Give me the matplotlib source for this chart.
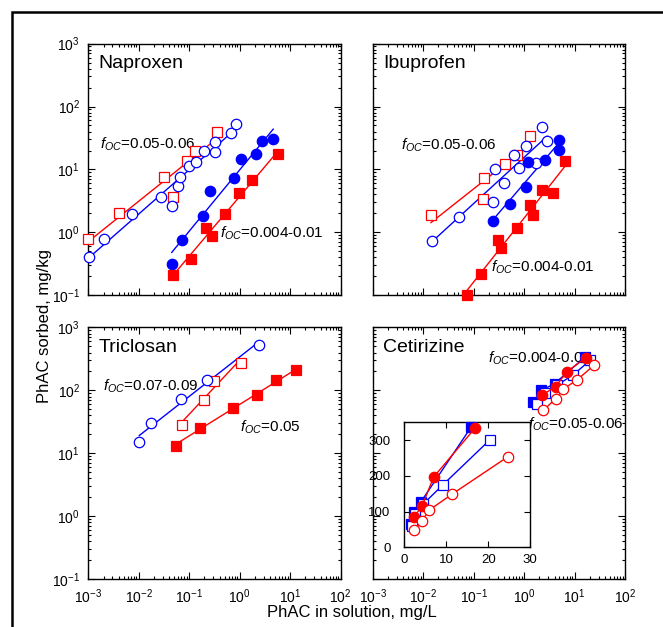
import numpy as np
import matplotlib
matplotlib.use("Agg")
import matplotlib.pyplot as plt
from matplotlib.patches import Rectangle

plt.rcParams['font.family'] = ['Liberation Sans', 'DejaVu Sans']
plt.rcParams['mathtext.fontset'] = 'custom'
plt.rcParams['mathtext.rm'] = 'Liberation Sans'
plt.rcParams['mathtext.it'] = 'Liberation Sans:italic'
plt.rcParams['mathtext.default'] = 'regular'

RED = '#ff0000'
BLUE = '#0000ff'

# Naproxen
nap_hi_sq_x = [0.001, 0.0041, 0.032, 0.047, 0.091, 0.13, 0.35]
nap_hi_sq_y = [0.78, 2.0, 7.6, 3.7, 13.7, 19.7, 38.7]
nap_hi_ci_x = [0.00105, 0.00204, 0.0073, 0.027, 0.045, 0.060, 0.066, 0.099, 0.138, 0.193, 0.318, 0.323, 0.67, 0.83]
nap_hi_ci_y = [0.40, 0.79, 1.97, 3.7, 2.6, 5.5, 7.7, 11.3, 13.2, 19.3, 18.8, 27.1, 37.3, 53.7]
nap_lo_ci_x = [0.045, 0.071, 0.184, 0.254, 0.78, 1.04, 2.07, 2.75, 4.6]
nap_lo_ci_y = [0.32, 0.77, 1.83, 4.5, 7.2, 14.4, 17.5, 28.8, 31]
nap_lo_sq_x = [0.047, 0.107, 0.211, 0.282, 0.52, 0.96, 1.77, 5.6]
nap_lo_sq_y = [0.21, 0.38, 1.17, 0.87, 1.95, 4.2, 6.8, 17.3]

# Ibuprofen
ibu_hi_sq_x = [0.0143, 0.155, 0.16, 0.42, 0.71, 1.31]
ibu_hi_sq_y = [1.88, 3.34, 7.2, 12.3, 16.9, 34]
ibu_hi_ci_x = [0.015, 0.0506, 0.24, 0.27, 0.40, 0.625, 0.80, 1.07, 1.70, 2.27, 2.85]
ibu_hi_ci_y = [0.74, 1.75, 3.0, 10.1, 6.2, 16.7, 10.6, 23.4, 12.7, 46.4, 28.4]
ibu_lo_ci_x = [0.244, 0.52, 1.10, 1.22, 2.6, 4.8, 4.85]
ibu_lo_ci_y = [1.53, 2.8, 5.2, 13.2, 14.1, 20.2, 29.2]
ibu_lo_sq_x = [0.073, 0.141, 0.31, 0.35, 0.71, 1.31, 1.47, 2.24, 3.8, 6.6]
ibu_lo_sq_y = [0.10, 0.22, 0.755, 0.56, 1.18, 2.7, 1.88, 4.8, 4.25, 13.7]

# Triclosan
tri_hi_ci_x = [0.0102, 0.0172, 0.0686, 0.221, 2.43]
tri_hi_ci_y = [14.9, 30.2, 73.5, 146, 531]
tri_hi_sq_x = [0.071, 0.195, 0.308, 1.04]
tri_hi_sq_y = [28.4, 71.6, 143.6, 275]
tri_lo_sq_x = [0.054, 0.163, 0.743, 2.16, 5.28, 13.2]
tri_lo_sq_y = [13.3, 25.4, 53.5, 84, 146, 210]

# Cetirizine
cet_lo_ci_x = [2.3, 4.2, 7.0, 16.8]
cet_lo_ci_y = [85, 115, 197, 333]
cet_lo_sq_x = [1.5, 2.2, 4.0, 16.0]
cet_lo_sq_y = [65, 100, 128, 338]
cet_hi_sq_x = [1.8, 2.6, 4.4, 9.2, 20.3]
cet_hi_sq_y = [60, 92, 120, 175, 300]
cet_hi_ci_x = [2.4, 4.2, 5.9, 11.4, 24.6]
cet_hi_ci_y = [48, 74, 104, 149, 253]

W, H = 663, 627
fig = plt.figure(figsize=(W / 100, H / 100), dpi=100)


def fit_line(ax, x, y, color):
    lx, ly = np.log10(x), np.log10(y)
    k, b = np.polyfit(lx, ly, 1)
    xs = np.array([lx.min(), lx.max()])
    ax.plot(10 ** xs, 10 ** (k * xs + b), '-', color=color, lw=1.0, zorder=3)


def points(ax, x, y, marker, color, filled, ms):
    ax.plot(x, y, linestyle='none', marker=marker, ms=ms, mec=color, mew=0.9,
            mfc=color if filled else 'white', zorder=4, clip_on=False)


def style_log(ax, xlab, ylab):
    ax.set_xscale('log')
    ax.set_yscale('log')
    ax.set_xlim(1e-3, 1e2)
    ax.set_ylim(1e-1, 1e3)
    ax.tick_params(which='both', direction='in', top=True, right=True, width=0.8)
    ax.tick_params(which='major', length=5, labelsize=10, pad=6)
    ax.tick_params(which='minor', length=2)
    ax.tick_params(labelbottom=xlab, labelleft=ylab)
    for s in ax.spines.values():
        s.set_linewidth(1.0)


def foc(ax, x, y, txt):
    ax.text(x / W, 1 - y / H, r'$\mathit{f}_{\mathit{OC}}$=' + txt, transform=fig.transFigure,
            fontsize=11, va='center', ha='left', zorder=1)


axw, axh = 0.3807, 0.4015
ax1 = fig.add_axes([0.1332, 0.529, axw, axh])
ax2 = fig.add_axes([0.5621, 0.529, axw, axh])
ax3 = fig.add_axes([0.1332, 0.0762, axw, axh])
ax4 = fig.add_axes([0.5621, 0.0762, axw, axh])

style_log(ax1, False, True)
style_log(ax2, False, False)
style_log(ax3, True, True)
style_log(ax4, True, False)

# Naproxen
fit_line(ax1, nap_hi_sq_x, nap_hi_sq_y, RED)
fit_line(ax1, nap_hi_ci_x, nap_hi_ci_y, BLUE)
fit_line(ax1, nap_lo_ci_x, nap_lo_ci_y, BLUE)
fit_line(ax1, nap_lo_sq_x, nap_lo_sq_y, RED)
points(ax1, nap_hi_sq_x, nap_hi_sq_y, 's', RED, False, 7)
points(ax1, nap_hi_ci_x, nap_hi_ci_y, 'o', BLUE, False, 7.5)
points(ax1, nap_lo_ci_x, nap_lo_ci_y, 'o', BLUE, True, 7.5)
points(ax1, nap_lo_sq_x, nap_lo_sq_y, 's', RED, True, 7)
ax1.text(0.04, 0.92, 'Naproxen', transform=ax1.transAxes, fontsize=14, va='center')
foc(ax1, 100, 144, '0.05-0.06')
foc(ax1, 220, 233, '0.004-0.01')

# Ibuprofen
fit_line(ax2, ibu_hi_sq_x, ibu_hi_sq_y, RED)
fit_line(ax2, ibu_hi_ci_x, ibu_hi_ci_y, BLUE)
fit_line(ax2, ibu_lo_ci_x, ibu_lo_ci_y, BLUE)
fit_line(ax2, ibu_lo_sq_x, ibu_lo_sq_y, RED)
points(ax2, ibu_hi_sq_x, ibu_hi_sq_y, 's', RED, False, 7)
points(ax2, ibu_hi_ci_x, ibu_hi_ci_y, 'o', BLUE, False, 7.5)
points(ax2, ibu_lo_ci_x, ibu_lo_ci_y, 'o', BLUE, True, 7.5)
points(ax2, ibu_lo_sq_x, ibu_lo_sq_y, 's', RED, True, 7)
ax2.text(0.04, 0.92, 'Ibuprofen', transform=ax2.transAxes, fontsize=14, va='center')
foc(ax2, 401, 145, '0.05-0.06')
foc(ax2, 491, 267, '0.004-0.01')

# Triclosan
fit_line(ax3, tri_hi_ci_x, tri_hi_ci_y, BLUE)
fit_line(ax3, tri_hi_sq_x, tri_hi_sq_y, RED)
fit_line(ax3, tri_lo_sq_x, tri_lo_sq_y, RED)
points(ax3, tri_hi_sq_x, tri_hi_sq_y, 's', RED, False, 7)
points(ax3, tri_hi_ci_x, tri_hi_ci_y, 'o', BLUE, False, 7.5)
points(ax3, tri_lo_sq_x, tri_lo_sq_y, 's', RED, True, 7)
ax3.text(0.04, 0.92, 'Triclosan', transform=ax3.transAxes, fontsize=14, va='center')
foc(ax3, 103, 386, '0.07-0.09')
foc(ax3, 240, 427, '0.05')

# Cetirizine
cet = [
    (cet_lo_sq_x, cet_lo_sq_y, 's', BLUE, True),
    (cet_hi_sq_x, cet_hi_sq_y, 's', BLUE, False),
    (cet_lo_ci_x, cet_lo_ci_y, 'o', RED, True),
    (cet_hi_ci_x, cet_hi_ci_y, 'o', RED, False),
]
for x, y, m, c, f in cet:
    ax4.plot(x, y, '-', color=c, lw=1.0, marker=m, ms=7.5 if m == 'o' else 7,
             mec=c, mew=0.9, mfc=c if f else 'white', zorder=4)
ax4.text(0.04, 0.92, 'Cetirizine', transform=ax4.transAxes, fontsize=14, va='center')
foc(ax4, 488, 358, '0.004-0.01')
foc(ax4, 528, 424, '0.05-0.06')

ins = fig.add_axes([0.6098, 0.1271, 0.190, 0.1994])
for x, y, m, c, f in cet:
    ins.plot(x, y, '-', color=c, lw=1.0, marker=m, ms=7.5 if m == 'o' else 7,
             mec=c, mew=0.9, mfc=c if f else 'white', zorder=4, clip_on=False)
ins.set_xlim(0, 30)
ins.set_ylim(0, 350)
ins.set_xticks([0, 10, 20, 30])
ins.set_yticks([0, 100, 200, 300])
ins.tick_params(direction='in', top=True, right=True, length=4, width=0.8, labelsize=9.5)
ins.tick_params(axis='x', pad=5)
ins.tick_params(axis='y', pad=10)
for s in ins.spines.values():
    s.set_linewidth(1.0)

fig.text(352 / W, 1 - 612 / H, 'PhAC in solution, mg/L', fontsize=12, ha='center', va='center')
fig.text(45 / W, 1 - 326 / H, 'PhAC sorbed, mg/kg', fontsize=12, ha='center', va='center',
         rotation=90)

# outer frame, cropped at right and bottom like the original
fig.patches.append(Rectangle((12 / W, -1), 2, 2 - 12 / H, transform=fig.transFigure,
                             fill=False, ec='black', lw=1.8))

fig.savefig('out.png', dpi=100)
